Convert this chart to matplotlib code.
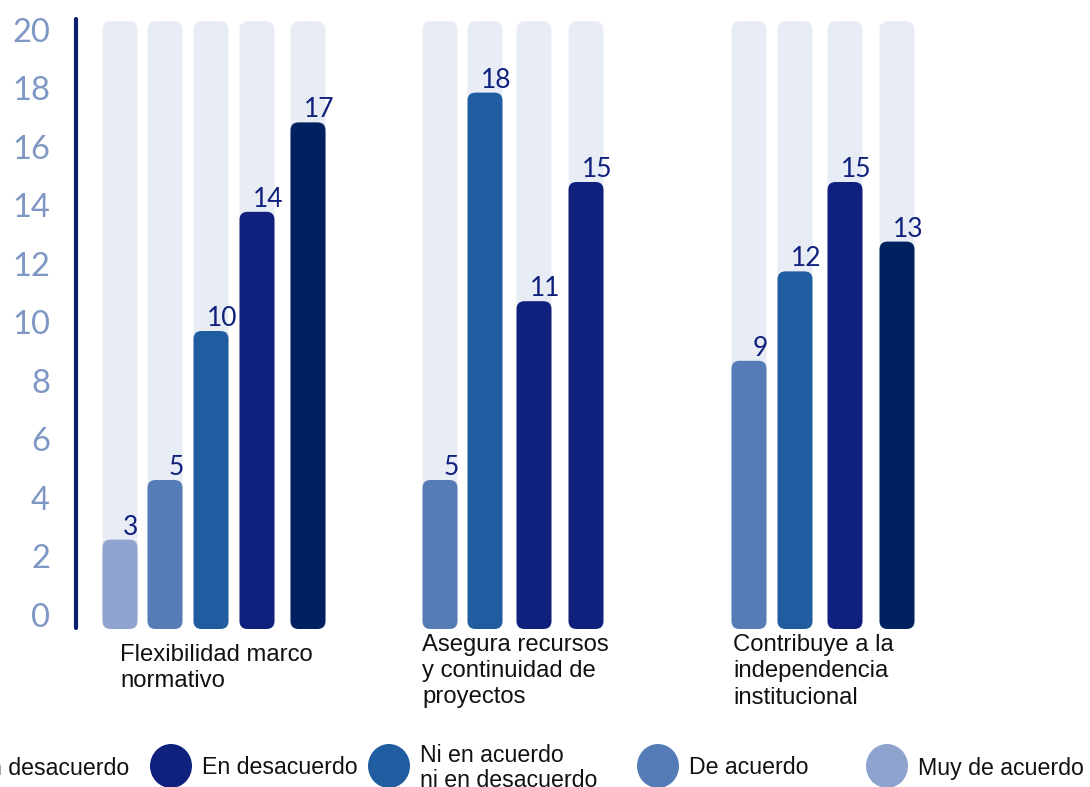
import matplotlib.pyplot as plt
from matplotlib.patches import FancyBboxPatch, Ellipse
from matplotlib.transforms import offset_copy

# categorias de respuesta (orden de la leyenda)
respuestas = ["Muy en desacuerdo", "En desacuerdo", "Ni en acuerdo\nni en desacuerdo",
              "De acuerdo", "Muy de acuerdo"]
colores = {"Muy en desacuerdo": "#00215F",
           "En desacuerdo": "#10217D",
           "Ni en acuerdo\nni en desacuerdo": "#1F5DA0",
           "De acuerdo": "#557CB7",
           "Muy de acuerdo": "#8FA3CF"}

grupos = ["Flexibilidad marco\nnormativo",
          "Asegura recursos\ny continuidad de\nproyectos",
          "Contribuye a la\nindependencia\ninstitucional"]

# valores de cada grupo con su categoria
valores_flex = [3, 5, 10, 14, 17]
cat_flex = ["Muy de acuerdo", "De acuerdo", "Ni en acuerdo\nni en desacuerdo",
            "En desacuerdo", "Muy en desacuerdo"]
valores_rec = [5, 18, 11, 15]
cat_rec = ["De acuerdo", "Ni en acuerdo\nni en desacuerdo", "En desacuerdo", "En desacuerdo"]
valores_ind = [9, 12, 15, 13]
cat_ind = ["De acuerdo", "Ni en acuerdo\nni en desacuerdo", "En desacuerdo", "Muy en desacuerdo"]

ticks_y = [0, 2, 4, 6, 8, 10, 12, 14, 16, 18, 20]

# layout (pixel)
W, H = 1090, 787
px = 29.8           # pixel per unita
y0 = 629            # pixel della base delle barre
inizio = [120, 440, 749]
passi = [[0, 45, 91, 137, 188], [0, 45, 94, 146], [0, 46, 96, 148]]
etich_x = [120, 422, 733]
etich_y = [-15, -5, -5]
larg = 35
fondo = 20.4

fig = plt.figure(figsize=(W / 100, H / 100), dpi=100)
ax = fig.add_axes([0, 0, 1, 1])
ax.set_xlim(0, W)
ax.set_ylim(-(H - y0) / px, y0 / px)
ax.axis("off")

asp = 1 / px
serie = [(valores_flex, cat_flex), (valores_rec, cat_rec), (valores_ind, cat_ind)]
for g, (vals, cats) in enumerate(serie):
    for i, (v, c) in enumerate(zip(vals, cats)):
        xc = inizio[g] + passi[g][i]
        ax.add_patch(FancyBboxPatch((xc - larg / 2, 0), larg, fondo,
                                    boxstyle="round,pad=0,rounding_size=9",
                                    mutation_aspect=asp, fc="#E8ECF5", ec="none"))
        ax.add_patch(FancyBboxPatch((xc - larg / 2, 0), larg, v,
                                    boxstyle="round,pad=0,rounding_size=8",
                                    mutation_aspect=asp, fc=colores[c], ec="none"))
        ax.text(xc + 11, v + 5 / px, str(v), ha="center", va="baseline",
                fontsize=19, color="#10217D", family="Lato")
    ax.text(etich_x[g], etich_y[g] / px, grupos[g], ha="left", va="top",
            fontsize=17.2, color="#111111", family="Liberation Sans", linespacing=1.25)

# asse verticale
ax.plot([76, 76], [(y0 - 628) / px, (y0 - 19) / px], color="#0B1F6F", lw=3,
        solid_capstyle="round")

tr = offset_copy(ax.transData, fig=fig, y=11, units="dots")
for t in ticks_y:
    ax.text(50, t * 0.982, str(t), ha="right", va="center", fontsize=23.5,
            color="#7F97C4", family="Lato", transform=tr)

# leggenda
leg_x = [-105, 171, 389, 658, 887]
for cx, r in zip(leg_x, respuestas):
    yc = (y0 - 766) / px
    ax.add_patch(Ellipse((cx, yc), 42, 44 / px, fc=colores[r], ec="none", clip_on=False))
    ax.text(cx + 31, yc - 2 / px, r, ha="left", va="center", fontsize=16.7,
            color="#111111", family="Liberation Sans", linespacing=1.15)

fig.savefig("out.png", dpi=100)
